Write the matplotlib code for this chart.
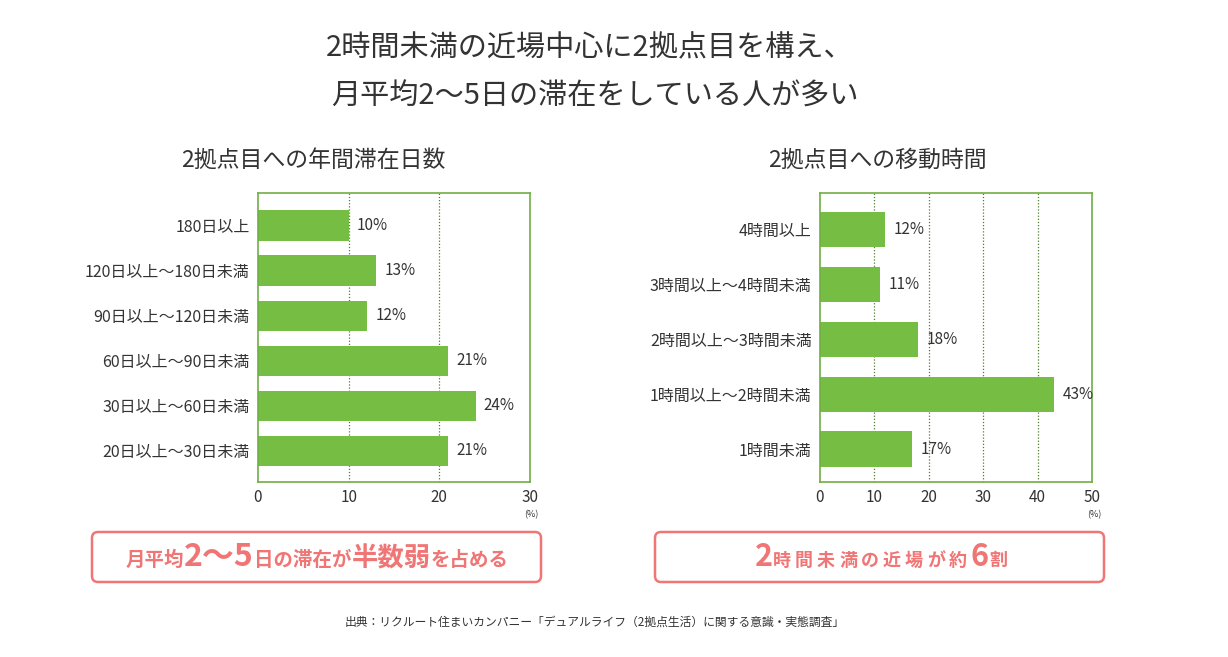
import matplotlib
matplotlib.use("Agg")
import matplotlib.pyplot as plt
from matplotlib.patches import FancyBboxPatch

plt.rcParams['font.family'] = ['Noto Sans CJK JP', 'DejaVu Sans']

# data
title_lines = ["2時間未満の近場中心に2拠点目を構え、", "月平均2〜5日の滞在をしている人が多い"]

stay_title = "2拠点目への年間滞在日数"
stay_labels = ["180日以上", "120日以上〜180日未満", "90日以上〜120日未満",
               "60日以上〜90日未満", "30日以上〜60日未満", "20日以上〜30日未満"]
stay_values = [10, 13, 12, 21, 24, 21]
stay_ticks = [0, 10, 20, 30]

move_title = "2拠点目への移動時間"
move_labels = ["4時間以上", "3時間以上〜4時間未満", "2時間以上〜3時間未満",
               "1時間以上〜2時間未満", "1時間未満"]
move_values = [12, 11, 18, 43, 17]
move_ticks = [0, 10, 20, 30, 40, 50]

note = "出典：リクルート住まいカンパニー「デュアルライフ（2拠点生活）に関する意識・実態調査」"

GREEN = "#76BD44"
FRAME = "#72AE45"
GRID = "#4F7F2E"
PINK = "#F07575"
TXT = "#333333"

W, H = 1228, 657
fig = plt.figure(figsize=(W / 100, H / 100), dpi=100)
fig.patch.set_facecolor("white")

# overlay axes in pixel coordinates (y downward)
bg = fig.add_axes([0, 0, 1, 1])
bg.set_xlim(0, W)
bg.set_ylim(H, 0)
bg.axis("off")
bg.patch.set_alpha(0)


def bar_panel(rect, labels, values, ticks, bh, pad_top, pad_bot):
    ax = fig.add_axes(rect)
    n = len(values)
    ax.barh(range(n), values, height=bh, color=GREEN, zorder=2)
    ax.set_ylim(n - 1 + pad_bot, -pad_top)
    ax.set_xlim(ticks[0], ticks[-1])
    ax.set_yticks(range(n))
    ax.set_yticklabels(labels, fontsize=11.5, color=TXT)
    ax.set_xticks(ticks)
    ax.set_xticklabels([str(t) for t in ticks], fontsize=11, color=TXT)
    ax.tick_params(axis="y", length=0, pad=6)
    ax.tick_params(axis="x", length=0, pad=5)
    for s in ax.spines.values():
        s.set_color(FRAME)
        s.set_linewidth(1.2)
    for t in ticks[1:-1]:
        ax.axvline(t, color=GRID, lw=0.9, ls=(0, (1, 1.5)), zorder=1)
    for i, v in enumerate(values):
        ax.annotate(f"{v}%", (v, i), xytext=(6, 0), textcoords="offset points",
                    va="center", ha="left", fontsize=11, color=TXT)
    return ax


ax1 = bar_panel([258 / W, 1 - 482 / H, 272 / W, 289 / H],
                stay_labels, stay_values, stay_ticks, 0.67, 0.72, 0.69)
ax2 = bar_panel([820 / W, 1 - 482 / H, 272 / W, 289 / H],
                move_labels, move_values, move_ticks, 0.64, 0.66, 0.6)

bg.text(531, 510, "(%)", fontsize=6.5, color=TXT, ha="center", va="top")
bg.text(1094, 510, "(%)", fontsize=6.5, color=TXT, ha="center", va="top")

# titles
bg.text(590, 48, title_lines[0], fontsize=21, color=TXT, ha="center", va="center")
bg.text(595, 97, title_lines[1], fontsize=21, color=TXT, ha="center", va="center")
bg.text(313, 160, stay_title, fontsize=16.5, color=TXT, ha="center", va="center")
bg.text(877, 160, move_title, fontsize=16.5, color=TXT, ha="center", va="center")

# callout boxes
for x0 in (92, 655):
    bg.add_patch(FancyBboxPatch((x0, 532), 449, 50,
                                boxstyle="round,pad=0,rounding_size=6",
                                fc="white", ec=PINK, lw=1.8))

renderer = fig.canvas.get_renderer()


def rich_text(cx, cy, pieces):
    # pieces: (text, size, spacing after each char in px)
    arts = []
    total = 0
    for txt, size, sp in pieces:
        chars = list(txt) if sp else [txt]
        for c in chars:
            a = bg.text(0, cy, c, fontsize=size, color=PINK, weight="bold",
                        ha="left", va="baseline")
            w = a.get_window_extent(renderer).width
            arts.append((a, w, sp))
            total += w + sp
    total -= arts[-1][2]
    x = cx - total / 2
    for a, w, sp in arts:
        a.set_x(x)
        x += w + sp


rich_text(317, 566, [("月平均", 14, 0), ("2〜5", 23, 0), ("日の滞在が", 14, 0),
                     ("半数弱", 19, 0), ("を占める", 14, 0)])
rich_text(881, 566, [("2", 22, 0), ("時間未満の近場が約", 13, 4),
                     ("6", 22, 0), ("割", 13, 0)])

bg.text(595, 622, note, fontsize=8.5, color=TXT, ha="center", va="center")

fig.savefig("out.png", dpi=100)
